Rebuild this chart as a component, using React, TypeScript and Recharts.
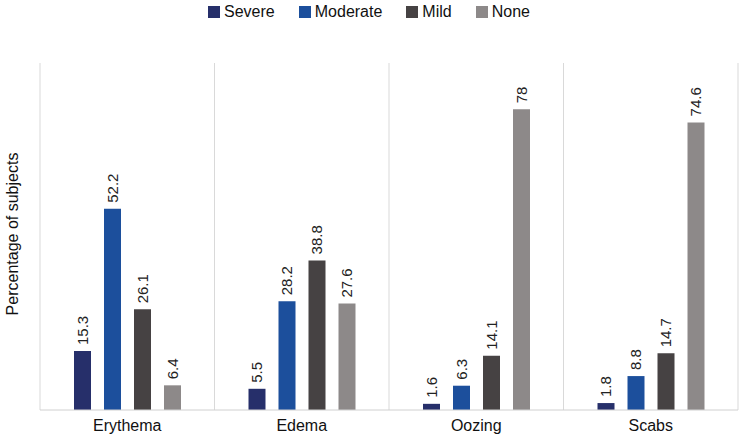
import { BarChart, Bar, XAxis, YAxis, CartesianGrid, Legend, LabelList } from "recharts";

const categories = ["Erythema", "Edema", "Oozing", "Scabs"];
const severe = [15.3, 5.5, 1.6, 1.8];
const moderate = [52.2, 28.2, 6.3, 8.8];
const mild = [26.1, 38.8, 14.1, 14.7];
const none = [6.4, 27.6, 78, 74.6];

const data = categories.map((name, i) => ({
  name,
  Severe: severe[i],
  Moderate: moderate[i],
  Mild: mild[i],
  None: none[i],
}));

const series = [
  { key: "Severe", color: "#262f6a" },
  { key: "Moderate", color: "#1c4f9c" },
  { key: "Mild", color: "#464243" },
  { key: "None", color: "#8d8989" },
];

const font = "'Liberation Sans', Arial, sans-serif";

const RotatedLabel = (props: any) => {
  const { x, y, width, value } = props;
  const cx = x + width / 2;
  const ty = y - 6;
  return (
    <text
      x={cx}
      y={ty}
      transform={`rotate(-90, ${cx}, ${ty})`}
      textAnchor="start"
      dominantBaseline="central"
      fontSize={15}
      fill="#222"
      fontFamily={font}
    >
      {value}
    </text>
  );
};

const TopLegend = () => (
  <div
    style={{
      display: "flex",
      justifyContent: "center",
      alignItems: "center",
      height: 24,
      fontSize: 16,
      fontFamily: font,
      color: "#111",
      paddingLeft: 22,
    }}
  >
    {series.map((s) => (
      <div key={s.key} style={{ display: "flex", alignItems: "center", marginRight: 24 }}>
        <span style={{ width: 12, height: 12, background: s.color, marginRight: 4, display: "inline-block" }} />
        <span>{s.key}</span>
      </div>
    ))}
  </div>
);

export default function App() {
  return (
    <div style={{ position: "absolute", left: 0, top: 0, fontFamily: font }}>
      <BarChart
        width={740}
        height={437}
        data={data}
        margin={{ top: 39, right: 2, left: 40, bottom: 0 }}
        barSize={17}
        barGap={13}
      >
        <CartesianGrid
          horizontal={false}
          stroke="#d9d9d9"
          verticalCoordinatesGenerator={({ offset }: any) =>
            [0, 1, 2, 3, 4].map((i) => offset.left + (i * offset.width) / 4)
          }
        />
        <XAxis
          dataKey="name"
          height={27}
          tickLine={false}
          axisLine={{ stroke: "#d0d0d0" }}
          tick={{ fill: "#111", fontSize: 16, fontFamily: font }}
          tickMargin={4}
        />
        <YAxis hide domain={[0, 90]} />
        <Legend
          verticalAlign="top"
          align="center"
          content={TopLegend}
          wrapperStyle={{ top: 0, left: 0, width: 740, height: 24 }}
        />
        {series.map((s) => (
          <Bar key={s.key} dataKey={s.key} fill={s.color} isAnimationActive={false}>
            <LabelList dataKey={s.key} content={RotatedLabel} />
          </Bar>
        ))}
        <text
          x={12}
          y={234}
          transform="rotate(-90, 12, 234)"
          textAnchor="middle"
          dominantBaseline="central"
          fontSize={16}
          fill="#111"
          fontFamily={font}
        >
          Percentage of subjects
        </text>
      </BarChart>
    </div>
  );
}
